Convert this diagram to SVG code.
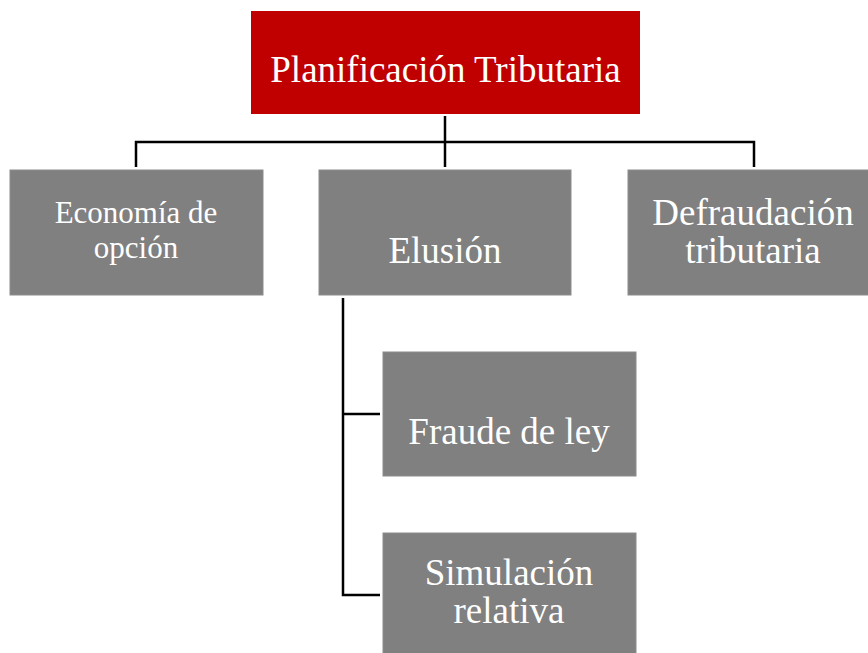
<svg xmlns="http://www.w3.org/2000/svg" width="868" height="653" viewBox="0 0 868 653">
<style>
.red{fill:#c00000}
.gray{fill:#808080;stroke:#8c8c8c;stroke-width:1}
.t{font-family:"Liberation Serif","Times New Roman",serif;fill:#ffffff;text-anchor:middle}
.c{fill:none;stroke:#000000;stroke-width:2.5;stroke-linecap:butt;stroke-linejoin:miter}
</style>
<rect width="868" height="653" fill="#ffffff"/>
<g id="connectors">
<path class="c" d="M445 116V167"/>
<path class="c" d="M136 167V142H754V167"/>
<path class="c" d="M343 298V595H380"/>
<path class="c" d="M343 414H380"/>
</g>
<g id="n-planificacion">
<rect class="red" x="251" y="11" width="389" height="103"/>
<text class="t" x="445.5" y="82" font-size="37">Planificación Tributaria</text>
</g>
<g id="n-economia">
<rect class="gray" x="10" y="170" width="253" height="125"/>
<text class="t" x="136" y="223" font-size="31">Economía de</text>
<text class="t" x="136" y="258" font-size="31">opción</text>
</g>
<g id="n-elusion">
<rect class="gray" x="319" y="170" width="252" height="125"/>
<text class="t" x="445" y="263" font-size="37">Elusión</text>
</g>
<g id="n-defraudacion">
<rect class="gray" x="628" y="170" width="252" height="125"/>
<text class="t" x="753" y="225" font-size="37">Defraudación</text>
<text class="t" x="753" y="263" font-size="37">tributaria</text>
</g>
<g id="n-fraude">
<rect class="gray" x="383" y="352" width="253" height="124"/>
<text class="t" x="509" y="444" font-size="37">Fraude de ley</text>
</g>
<g id="n-simulacion">
<rect class="gray" x="383" y="533" width="253" height="125"/>
<text class="t" x="509" y="585" font-size="37">Simulación</text>
<text class="t" x="509" y="623" font-size="37">relativa</text>
</g>
</svg>
